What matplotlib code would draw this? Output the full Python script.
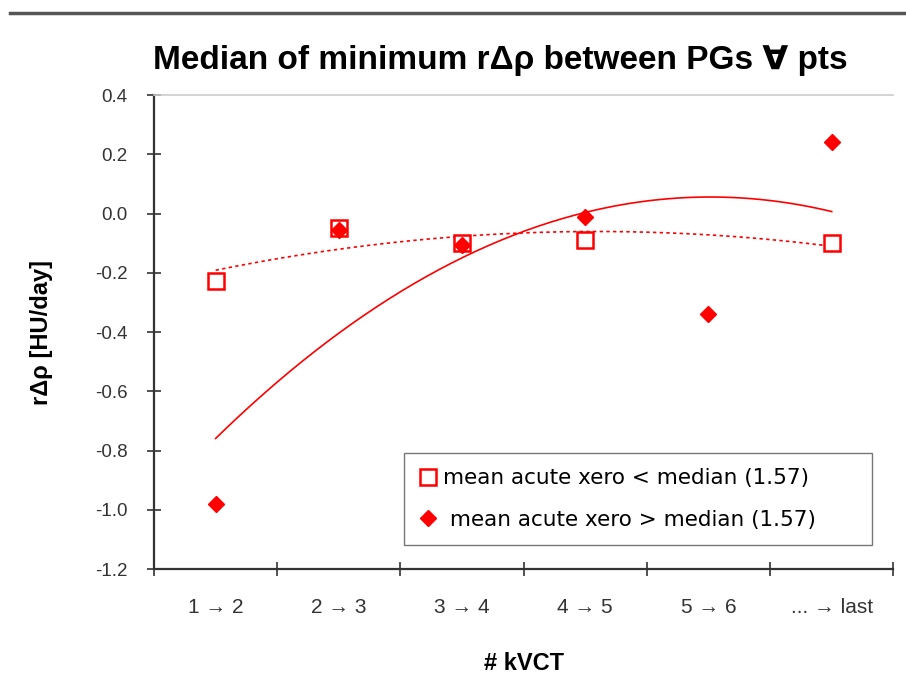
import numpy as np
import matplotlib
matplotlib.use("Agg")
import matplotlib.pyplot as plt
from matplotlib.lines import Line2D

plt.rcParams["font.family"] = ["Liberation Sans", "DejaVu Sans"]

categories = ["1 \u2192 2", "2 \u2192 3", "3 \u2192 4", "4 \u2192 5", "5 \u2192 6", "... \u2192 last"]
low_x = [1, 2, 3, 4, 6]
low_y = [-0.226, -0.047, -0.098, -0.088, -0.100]
high_x = [1, 2, 3, 4, 5, 6]
high_y = [-0.980, -0.055, -0.105, -0.010, -0.338, 0.243]
yticks = [-1.2, -1.0, -0.8, -0.6, -0.4, -0.2, 0.0, 0.2, 0.4]

RED = "#ff0000"
DARK = "#333333"

fig = plt.figure(figsize=(9.06, 6.89), dpi=100)
ax = fig.add_axes([0.170, 0.174, 0.816, 0.688])

# polynomial (order 2) trendlines, like the spreadsheet ones
xx = np.linspace(1, 6, 200)
p_low = np.polyfit(low_x, low_y, 2)
p_high = np.polyfit(high_x, high_y, 2)
ax.plot(xx, np.polyval(p_low, xx), color=RED, lw=1.2, ls=(0, (2, 2)))
ax.plot(xx, np.polyval(p_high, xx), color=RED, lw=1.2)

ax.plot(low_x, low_y, ls="none", marker="s", ms=11, mfc="white", mec=RED, mew=1.8,
        label="mean acute xero < median (1.57)")
ax.plot(high_x, high_y, ls="none", marker="D", ms=8, mfc=RED, mec=RED,
        label=" mean acute xero > median (1.57)")

ax.set_xlim(0.5, 6.5)
ax.set_ylim(-1.2, 0.4)
ax.set_yticks(yticks)
ax.set_yticklabels([f"{v:.1f}" for v in yticks], color=DARK, fontsize=13.5)
ax.set_xticks(np.arange(0.5, 6.6, 1.0))
ax.set_xticklabels([])
ax.set_xticks(range(1, 7), minor=True)
ax.set_xticklabels(categories, minor=True, fontsize=15, color=DARK)
ax.tick_params(axis="x", which="minor", length=0, pad=21)
ax.tick_params(axis="both", which="major", direction="inout", length=10, width=1.2, color=DARK)
ax.tick_params(axis="y", pad=14)

for s in ("left", "bottom"):
    ax.spines[s].set_color(DARK)
    ax.spines[s].set_linewidth(1.6)
ax.spines["right"].set_visible(False)
ax.spines["top"].set_color("#cccccc")
ax.spines["top"].set_linewidth(1.2)

ax.set_ylabel("r\u0394\u03c1 [HU/day]", fontsize=17, fontweight="bold", labelpad=30)
ax.set_xlabel("# kVCT", fontsize=17, fontweight="bold", labelpad=25)
fig.text(0.552, 0.912, "Median of minimum r\u0394\u03c1 between PGs \u2200 pts",
         ha="center", va="center", fontsize=24, fontweight="bold")

leg = ax.legend(loc="lower left", bbox_to_anchor=(0.338, 0.051, 0.633, 0.194),
                mode="expand", borderaxespad=0,
                prop={"family": "DejaVu Sans", "size": 15.5},
                frameon=True, fancybox=False, edgecolor="#555555",
                handletextpad=0.3, borderpad=0.7, labelspacing=1.0, handlelength=0.8)
leg.get_frame().set_linewidth(1.0)

fig.add_artist(Line2D([0.011, 1.0], [0.981, 0.981], color="#555555", lw=2.5))

fig.savefig("out.png", dpi=100)
